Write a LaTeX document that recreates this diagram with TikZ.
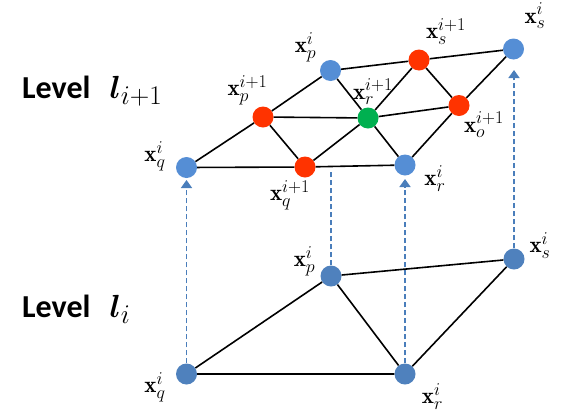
\RequirePackage{fix-cm}
\documentclass[tikz,border=0pt]{standalone}
\usepackage{amsmath}
\usepackage{bm}
\usepackage{fontspec}
\newfontfamily\calib{Carlito}
\DeclareMathSizes{23}{23}{18}{14}
\DeclareMathSizes{32}{32}{27}{21}
\usetikzlibrary{arrows.meta}
\definecolor{topblue}{HTML}{558ED5}
\definecolor{botblue}{HTML}{4F81BD}
\definecolor{nred}{HTML}{FF3300}
\definecolor{ngreen}{HTML}{00B050}
\definecolor{dblue}{HTML}{4A7EBB}
\tikzset{
  pt/.style={circle,inner sep=0pt,minimum size=21pt},
  tb/.style={pt,fill=topblue},
  bb/.style={pt,fill=botblue},
  rd/.style={pt,fill=nred},
  gn/.style={pt,fill=ngreen},
  edge/.style={line width=1.6pt,black},
  lift/.style={dblue,line width=1.5pt,dash pattern=on 5pt off 3pt},
  liftar/.style={lift,-{Triangle[width=11pt,length=8pt]}},
  lab/.style={inner sep=0pt,font=\fontsize{23}{26}\selectfont},
  lev/.style={inner sep=0pt,anchor=base west,font=\fontsize{32}{38}\selectfont\calib\bfseries}
}
\begin{document}
\begin{tikzpicture}[x=1pt,y=-1pt]
\useasboundingbox (0,0) rectangle (577,418);
% top level
\node[tb] (tq) at (186.5,167.5) {};
\node[tb] (tp) at (330.5,70.5) {};
\node[tb] (ts) at (513.5,49) {};
\node[tb] (tr) at (405,165) {};
\node[rd] (np) at (263,117) {};
\node[rd] (ns) at (419,60) {};
\node[gn] (nr) at (368,118) {};
\node[rd] (no) at (459,105.5) {};
\node[rd] (nq) at (305,167) {};
% bottom level
\node[bb] (bq) at (186.5,374) {};
\node[bb] (bp) at (331,276) {};
\node[bb] (bs) at (514,259) {};
\node[bb] (br) at (405,374) {};
% lifts
\coordinate (aq) at (186.5,180);
\coordinate (ap) at (331,170);
\coordinate (ar) at (405,179);
\coordinate (as) at (514,70);
\draw[liftar] (bq) -- (aq);
\draw[lift] (bp) -- (ap);
\draw[liftar] (br) -- (ar);
\draw[liftar] (bs) -- (as);
% top edges
\draw[edge] (tq) -- (np) -- (tp) -- (ns) -- (ts) -- (no) -- (tr) -- (nq) -- (tq);
\draw[edge] (np) -- (nr) -- (no);
\draw[edge] (np) -- (nq) -- (nr);
\draw[edge] (tp) -- (nr) -- (tr);
\draw[edge] (ns) -- (nr);
\draw[edge] (ns) -- (no);
% bottom edges
\draw[edge] (bq) -- (bp) -- (bs) -- (br) -- (bq);
\draw[edge] (bp) -- (br);
% labels
\node[lab] (ltp) at (305.5,47) {$\mathbf{x}_p^i$};
\node[lab] (lnp) at (247.5,90) {$\mathbf{x}_p^{i+1}$};
\node[lab] (lnr) at (373,92) {$\mathbf{x}_r^{i+1}$};
\node[lab] (lnq) at (290,195.5) {$\mathbf{x}_q^{i+1}$};
\node[lab] (lns) at (446,31.5) {$\mathbf{x}_s^{i+1}$};
\node[lab] (lts) at (535,16) {$\mathbf{x}_s^i$};
\node[lab] (lno) at (484,125) {$\mathbf{x}_o^{i+1}$};
\node[lab] (ltr) at (435,178.5) {$\mathbf{x}_r^i$};
\node[lab] (ltq) at (155,156) {$\mathbf{x}_q^i$};
\node[lab] (lbp) at (304.5,261) {$\mathbf{x}_p^i$};
\node[lab] (lbs) at (540,245.5) {$\mathbf{x}_s^i$};
\node[lab] (lbr) at (432.5,396.5) {$\mathbf{x}_r^i$};
\node[lab] (lbq) at (155,387) {$\mathbf{x}_q^i$};
\node[lev] (levt) at (22,98) {Level\hspace{0.6em}$\bm{l}_{i+1}$};
\node[lev] (levb) at (22,317) {Level\hspace{0.6em}$\bm{l}_i$};
\end{tikzpicture}
\end{document}
